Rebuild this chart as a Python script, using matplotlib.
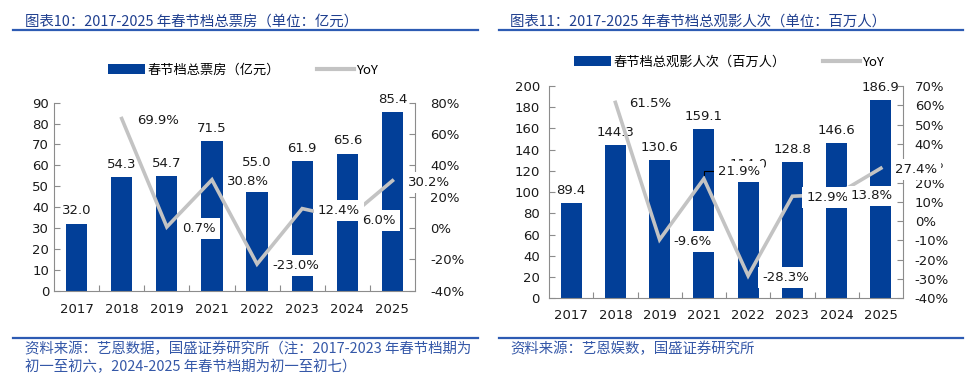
import matplotlib
matplotlib.use('Agg')
import matplotlib.pyplot as plt
from matplotlib.patches import Patch
from matplotlib.lines import Line2D

# ---------------- data ----------------
years = ['2017', '2018', '2019', '2021', '2022', '2023', '2024', '2025']
box_office = [32.0, 54.3, 54.7, 71.5, 55.0, 61.9, 65.6, 85.4]          # 亿元
box_yoy = [None, 69.9, 0.7, 30.8, -23.0, 12.4, 6.0, 30.2]                # %
admissions = [89.4, 144.3, 130.6, 159.1, 114.0, 128.8, 146.6, 186.9]   # 百万人
adm_yoy = [None, 61.5, -9.6, 21.9, -28.3, 12.9, 13.8, 27.4]              # %

left_ticks = list(range(0, 91, 10))
left_yoy_ticks = list(range(-40, 81, 20))
right_ticks = list(range(0, 201, 20))
right_yoy_ticks = list(range(-40, 71, 10))

title_l = '图表10：2017-2025 年春节档总票房（单位：亿元）'
title_r = '图表11：2017-2025 年春节档总观影人次（单位：百万人）'
legend_l = '春节档总票房（亿元）'
legend_r = '春节档总观影人次（百万人）'
source_l1 = '资料来源：艺恩数据，国盛证券研究所（注：2017-2023 年春节档期为'
source_l2 = '初一至初六，2024-2025 年春节档期为初一至初七）'
source_r = '资料来源：艺恩娱数，国盛证券研究所'

# ---------------- style ----------------
BAR = '#023f98'
GRAY = '#c3c3c3'
SPINE = '#8c8c8c'
TXT = '#1a1a1a'
TITLE_C = '#1f3f8f'
SRC_C = '#3558a8'
RULE_C = '#2d5bb3'
CJK = ['Noto Sans CJK SC', 'DejaVu Sans']
FS = 9.5
HFS = 10.4

W, H = 969, 386
fig = plt.figure(figsize=(W / 100, H / 100), dpi=100)
fig.patch.set_facecolor('white')


def fx(px):
    return px / W


def fy(py):
    return 1 - py / H


def panel(rect, vals, yoy, ticks, yoy_ticks, lpad, rpad, xpad,
          val_off, yoy_off, leader=None):
    x0, ytop, x1, ybot = rect
    ax = fig.add_axes([fx(x0), fy(ybot), fx(x1) - fx(x0), (ybot - ytop) / H])
    xs = list(range(len(years)))
    ax.bar(xs, vals, width=0.47, color=BAR, zorder=1)
    ax.set_xlim(-0.5, len(years) - 0.5)
    ax.set_ylim(ticks[0], ticks[-1])
    ax.set_yticks(ticks)
    ax.set_yticklabels([str(t) for t in ticks])
    ax.set_xticks(xs)
    ax.set_xticklabels(years)
    ax.set_xticks([i + 0.5 for i in range(len(years) - 1)], minor=True)
    ax.tick_params(axis='x', which='major', length=0, pad=xpad,
                   labelsize=FS, labelcolor=TXT)
    ax.tick_params(axis='x', which='minor', direction='in', length=4,
                   color=SPINE, width=0.8)
    ax.tick_params(axis='y', direction='in', length=4, color=SPINE,
                   width=0.8, pad=lpad, labelsize=FS, labelcolor=TXT)
    for s in ['top', 'right']:
        ax.spines[s].set_visible(False)
    for s in ['left', 'bottom']:
        ax.spines[s].set_color(SPINE)
        ax.spines[s].set_linewidth(0.8)
    for i, v in enumerate(vals):
        ax.annotate(f'{v:.1f}', (i, v), xytext=(0, val_off),
                    textcoords='offset points', ha='center', va='baseline',
                    fontsize=FS, color=TXT)

    ax2 = ax.twinx()
    ax2.set_ylim(yoy_ticks[0], yoy_ticks[-1])
    ax2.set_yticks(yoy_ticks)
    ax2.set_yticklabels([f'{t}%' for t in yoy_ticks])
    ax2.tick_params(axis='y', direction='in', length=4, color=SPINE,
                    width=0.8, pad=rpad, labelsize=FS, labelcolor=TXT)
    for s in ['top', 'left', 'bottom']:
        ax2.spines[s].set_visible(False)
    ax2.spines['right'].set_color(SPINE)
    ax2.spines['right'].set_linewidth(0.8)
    px = [i for i, v in enumerate(yoy) if v is not None]
    py = [v for v in yoy if v is not None]
    ax2.plot(px, py, color=GRAY, lw=2.6, zorder=2, solid_joinstyle='miter')
    for i, v in zip(px, py):
        kw = dict(textcoords='offset points', ha='left',
                  va='center_baseline', fontsize=FS, color=TXT, zorder=5,
                  bbox=dict(boxstyle='square,pad=0.3', fc='white', ec='none'))
        if leader is not None and i == leader:
            ax2.annotate(f'{v:.1f}%', (i, v), xytext=(yoy_off, 6.5),
                         arrowprops=dict(arrowstyle='-', color='black', lw=0.8,
                                         shrinkA=0, shrinkB=3,
                                         connectionstyle='angle,angleA=0,angleB=90,rad=0'),
                         **kw)
        else:
            ax2.annotate(f'{v:.1f}%', (i, v), xytext=(yoy_off, 0), **kw)
    return ax, ax2


# left panel
panel((54, 102.7, 415, 290.7), box_office, box_yoy, left_ticks,
      left_yoy_ticks, lpad=3.5, rpad=11, xpad=9, val_off=7, yoy_off=11)
# right panel
panel((549, 86, 903, 298.3), admissions, adm_yoy, right_ticks,
      right_yoy_ticks, lpad=6.5, rpad=8.5, xpad=8, val_off=6.5, yoy_off=10,
      leader=3)

# legends
for label, cx, cy in [(legend_l, 243, 70), (legend_r, 729, 62)]:
    fig.legend(handles=[Patch(fc=BAR, ec='none'),
                        Line2D([], [], color=GRAY, lw=3)],
               labels=[label, 'YoY'], loc='center',
               bbox_to_anchor=(fx(cx), fy(cy)), ncol=2, frameon=False,
               handlelength=2.8, handleheight=0.8, handletextpad=0.2,
               columnspacing=2.8, prop={'family': CJK, 'size': FS})

# titles, rules and sources
fig.text(fx(25), fy(22), title_l, fontsize=HFS, color=TITLE_C,
         family=CJK, style='italic', va='center', ha='left')
fig.text(fx(510), fy(22), title_r, fontsize=HFS, color=TITLE_C,
         family=CJK, style='italic', va='center', ha='left')
for xa, xb, y in [(13, 478, 30), (499, 963, 30), (13, 478, 337.5), (499, 963, 338)]:
    fig.add_artist(Line2D([fx(xa), fx(xb)], [fy(y), fy(y)],
                          transform=fig.transFigure, color=RULE_C, lw=1.6))
fig.text(fx(25), fy(349), source_l1, fontsize=HFS, color=SRC_C,
         family=CJK, style='italic', va='center', ha='left')
fig.text(fx(25), fy(367), source_l2, fontsize=HFS, color=SRC_C,
         family=CJK, style='italic', va='center', ha='left')
fig.text(fx(510), fy(349), source_r, fontsize=HFS, color=SRC_C,
         family=CJK, style='italic', va='center', ha='left')

fig.savefig('out.png', dpi=100, facecolor='white')
